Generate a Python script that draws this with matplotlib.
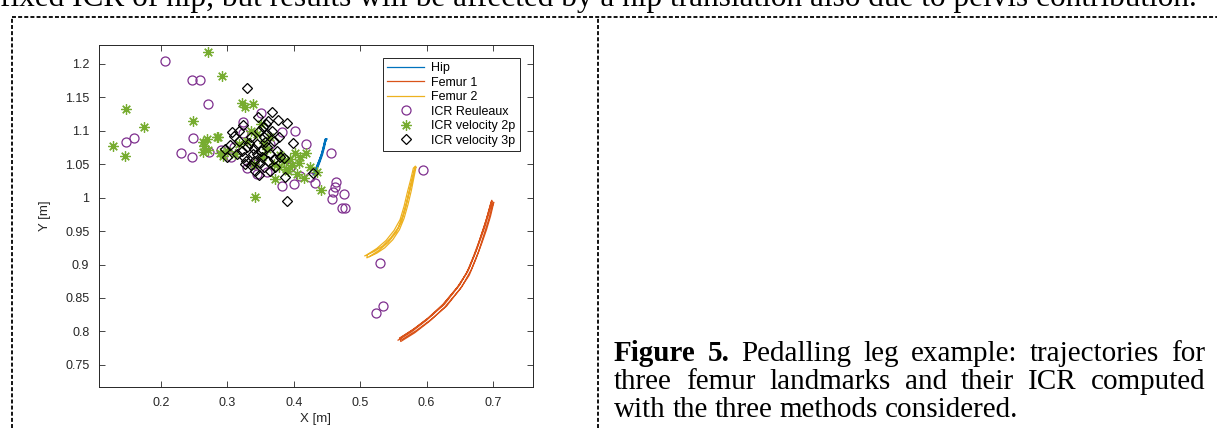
import matplotlib.pyplot as plt
from matplotlib.lines import Line2D

# trajectories (one continuous path per landmark, several pedal cycles)
hip_x = [0.429, 0.433, 0.437, 0.441, 0.444, 0.446, 0.448,
         0.447, 0.445, 0.442, 0.438, 0.434, 0.431,
         0.431, 0.435, 0.439, 0.442, 0.445, 0.447, 0.450,
         0.448, 0.446, 0.443, 0.439, 0.435, 0.430,
         0.432, 0.436, 0.440, 0.443, 0.446, 0.448]
hip_y = [1.034, 1.043, 1.053, 1.063, 1.073, 1.081, 1.088,
         1.087, 1.078, 1.066, 1.055, 1.045, 1.037,
         1.036, 1.044, 1.054, 1.064, 1.074, 1.082, 1.088,
         1.084, 1.074, 1.063, 1.052, 1.042, 1.035,
         1.038, 1.047, 1.057, 1.067, 1.077, 1.085]

femur1_x = [0.557, 0.578, 0.600, 0.623, 0.646, 0.660, 0.670, 0.679, 0.686, 0.692, 0.698,
            0.696, 0.690, 0.683, 0.675, 0.664, 0.650, 0.627, 0.604, 0.581, 0.560,
            0.561, 0.582, 0.604, 0.627, 0.650, 0.664, 0.674, 0.683, 0.690, 0.696, 0.701,
            0.699, 0.693, 0.686, 0.678, 0.667, 0.653, 0.630, 0.607, 0.584, 0.563,
            0.559, 0.580, 0.602, 0.625, 0.648, 0.662, 0.672, 0.681, 0.688, 0.694, 0.699]
femur1_y = [0.787, 0.800, 0.817, 0.838, 0.866, 0.887, 0.911, 0.935, 0.955, 0.975, 0.996,
            0.990, 0.968, 0.947, 0.922, 0.895, 0.870, 0.841, 0.821, 0.804, 0.790,
            0.785, 0.798, 0.815, 0.836, 0.863, 0.884, 0.908, 0.932, 0.952, 0.972, 0.993,
            0.988, 0.966, 0.944, 0.919, 0.892, 0.867, 0.838, 0.818, 0.801, 0.788,
            0.790, 0.803, 0.820, 0.841, 0.868, 0.890, 0.914, 0.938, 0.958, 0.978, 0.994]

femur2_x = [0.507, 0.522, 0.534, 0.546, 0.557, 0.564, 0.570, 0.575, 0.580, 0.583,
            0.580, 0.576, 0.571, 0.566, 0.560, 0.551, 0.539, 0.525, 0.511,
            0.510, 0.525, 0.537, 0.549, 0.559, 0.566, 0.572, 0.577, 0.581, 0.584,
            0.582, 0.578, 0.573, 0.568, 0.562, 0.554, 0.542, 0.528, 0.514]
femur2_y = [0.913, 0.920, 0.928, 0.940, 0.955, 0.972, 0.993, 1.014, 1.034, 1.047,
            1.044, 1.027, 1.008, 0.987, 0.967, 0.951, 0.936, 0.924, 0.915,
            0.910, 0.917, 0.925, 0.937, 0.952, 0.969, 0.990, 1.011, 1.031, 1.046,
            1.042, 1.025, 1.005, 0.984, 0.964, 0.948, 0.933, 0.921, 0.912]

# ICR estimates
reul_x = [0.206, 0.247, 0.259, 0.271, 0.148, 0.160, 0.249, 0.230, 0.247, 0.272,
          0.291, 0.305, 0.323, 0.329, 0.350, 0.383, 0.402, 0.419, 0.382, 0.400,
          0.409, 0.424, 0.432, 0.456, 0.464, 0.462, 0.459, 0.476, 0.458, 0.473,
          0.477, 0.595, 0.530, 0.524, 0.534, 0.360, 0.340, 0.365, 0.395, 0.310,
          0.323, 0.345]
reul_y = [1.204, 1.175, 1.175, 1.140, 1.083, 1.089, 1.089, 1.067, 1.061, 1.068,
          1.071, 1.061, 1.097, 1.044, 1.127, 1.098, 1.100, 1.080, 1.017, 1.020,
          1.032, 1.031, 1.022, 1.067, 1.023, 1.016, 1.008, 1.005, 0.998, 0.984,
          0.984, 1.041, 0.902, 0.827, 0.838, 1.038, 1.050, 1.080, 1.045, 1.075,
          1.113, 1.036]

vel2_x = [0.271, 0.292, 0.147, 0.175, 0.128, 0.146, 0.248, 0.322, 0.327, 0.339,
          0.263, 0.269, 0.265, 0.271, 0.263, 0.284, 0.289, 0.293, 0.341, 0.441,
          0.419, 0.402, 0.286, 0.300, 0.312, 0.318, 0.330, 0.345, 0.352, 0.360,
          0.370, 0.378, 0.385, 0.392, 0.398, 0.405, 0.410, 0.415, 0.425, 0.435,
          0.335, 0.355, 0.365, 0.380, 0.395, 0.340, 0.372, 0.388, 0.350, 0.408]
vel2_y = [1.218, 1.181, 1.133, 1.106, 1.077, 1.062, 1.115, 1.142, 1.136, 1.140,
          1.083, 1.088, 1.077, 1.071, 1.068, 1.091, 1.067, 1.062, 1.001, 1.011,
          1.067, 1.067, 1.091, 1.070, 1.065, 1.080, 1.085, 1.095, 1.060, 1.072,
          1.050, 1.045, 1.055, 1.040, 1.048, 1.035, 1.060, 1.030, 1.045, 1.038,
          1.100, 1.082, 1.090, 1.064, 1.058, 1.050, 1.028, 1.042, 1.110, 1.052]

vel3_x = [0.329, 0.390, 0.367, 0.376, 0.390, 0.307, 0.304, 0.324, 0.346, 0.399,
          0.386, 0.429, 0.348, 0.387, 0.310, 0.318, 0.322, 0.315, 0.325, 0.330,
          0.335, 0.338, 0.340, 0.345, 0.348, 0.350, 0.352, 0.355, 0.355, 0.358,
          0.360, 0.362, 0.365, 0.368, 0.370, 0.372, 0.375, 0.378, 0.380, 0.335,
          0.342, 0.328, 0.345, 0.360, 0.365, 0.332, 0.326, 0.357, 0.349, 0.370,
          0.340, 0.362, 0.318, 0.300, 0.296, 0.354]
vel3_y = [1.164, 0.995, 1.128, 1.116, 1.112, 1.098, 1.079, 1.109, 1.121, 1.081,
          1.059, 1.037, 1.034, 1.031, 1.092, 1.085, 1.070, 1.065, 1.060, 1.075,
          1.090, 1.065, 1.055, 1.080, 1.100, 1.070, 1.060, 1.045, 1.090, 1.110,
          1.075, 1.055, 1.065, 1.100, 1.085, 1.045, 1.070, 1.090, 1.060, 1.048,
          1.040, 1.055, 1.065, 1.095, 1.040, 1.082, 1.050, 1.083, 1.052, 1.058,
          1.072, 1.115, 1.100, 1.060, 1.072, 1.105]

x_ticks = [0.2, 0.3, 0.4, 0.5, 0.6, 0.7]
y_ticks = [0.75, 0.8, 0.85, 0.9, 0.95, 1.0, 1.05, 1.1, 1.15, 1.2]
y_tick_labels = ['0.75', '0.8', '0.85', '0.9', '0.95', '1', '1.05', '1.1', '1.15', '1.2']

top_text = "fixed ICR of hip, but results will be affected by a hip translation also due to pelvis contribution."
caption_lines = [
    [("Figure", "bold"), ("5.", "bold"), ("Pedalling", "normal"), ("leg", "normal"),
     ("example:", "normal"), ("trajectories", "normal"), ("for", "normal")],
    [("three", "normal"), ("femur", "normal"), ("landmarks", "normal"), ("and", "normal"),
     ("their", "normal"), ("ICR", "normal"), ("computed", "normal")],
    [("with", "normal"), ("the", "normal"), ("three", "normal"), ("methods", "normal"),
     ("considered.", "normal")],
]

axc = '#262626'
plt.rcParams['font.family'] = ['Liberation Sans', 'DejaVu Sans']

W, H = 1217, 428
fig = plt.figure(figsize=(W / 100, H / 100), dpi=100)
ax = fig.add_axes([99 / W, 1 - 387 / H, 434 / W, 342 / H])

ax.plot(hip_x, hip_y, color='#0072BD', lw=0.9, label='Hip')
ax.plot(femur1_x, femur1_y, color='#D95319', lw=0.9, label='Femur 1')
ax.plot(femur2_x, femur2_y, color='#EDB120', lw=0.9, label='Femur 2')
ax.plot(reul_x, reul_y, ls='none', marker='o', ms=6.5, mfc='none', mec='#7E2F8E',
        mew=0.9, label='ICR Reuleaux')
ax.plot(vel2_x, vel2_y, ls='none', marker=(8, 2, 0), ms=7.5, mec='#77AC30',
        mew=0.9, label='ICR velocity 2p')
ax.plot(vel3_x, vel3_y, ls='none', marker='D', ms=5.5, mfc='none', mec='black',
        mew=0.9, label='ICR velocity 3p')

ax.set_xlim(0.107, 0.760)
ax.set_ylim(0.717, 1.228)
ax.set_xticks(x_ticks)
ax.set_xticklabels([f'{v:g}' for v in x_ticks])
ax.set_yticks(y_ticks)
ax.set_yticklabels(y_tick_labels)
ax.tick_params(direction='in', length=4, width=0.6, colors=axc, labelsize=9,
               top=True, right=True, labeltop=False, labelright=False, pad=7)
for s in ax.spines.values():
    s.set_color(axc)
    s.set_linewidth(0.7)
ax.set_xlabel('X [m]', fontsize=9.5, color=axc)
ax.set_ylabel('Y [m]', fontsize=9.5, color=axc)
ax.xaxis.set_label_coords(0.5, -0.076)
ax.yaxis.set_label_coords(-0.110, 0.5)

leg = ax.legend(loc='upper right', bbox_to_anchor=(0.970, 0.962), borderaxespad=0,
                fontsize=9, fancybox=False, handlelength=3.0, handletextpad=0.55,
                labelspacing=0.2, borderpad=0.35, framealpha=1)
leg.get_frame().set_edgecolor(axc)
leg.get_frame().set_linewidth(0.7)

# page frame (dashed box around figure)
dash = dict(color='black', lw=1.3, ls=(0, (2.2, 1.2)))
fig.add_artist(Line2D([12 / W, 1.0], [1 - 17 / H, 1 - 17 / H], **dash))
fig.add_artist(Line2D([12 / W, 12 / W], [0, 1 - 17 / H], **dash))
fig.add_artist(Line2D([598 / W, 598 / W], [0, 1 - 17 / H], **dash))

serif = ['Liberation Serif', 'DejaVu Serif']
fig.text(0.0, 1 - 6 / H, top_text, fontsize=22.5, family=serif, va='baseline', ha='left')

# justified caption
renderer = fig.canvas.get_renderer()
x0, x1 = 614, 1205
baselines = [361, 389, 417]
for li, words in enumerate(caption_lines):
    items = []
    for w, weight in words:
        t = fig.text(0, 0, w, fontsize=21, family=serif, weight=weight, va='baseline')
        items.append((t, t.get_window_extent(renderer).width))
    total = sum(wd for _, wd in items)
    if li < len(caption_lines) - 1:
        gap = (x1 - x0 - total) / (len(items) - 1)
    else:
        gap = 7
    xp = x0
    for t, wd in items:
        t.set_position((xp / W, 1 - baselines[li] / H))
        xp += wd + gap

fig.savefig('out.png', dpi=100)
